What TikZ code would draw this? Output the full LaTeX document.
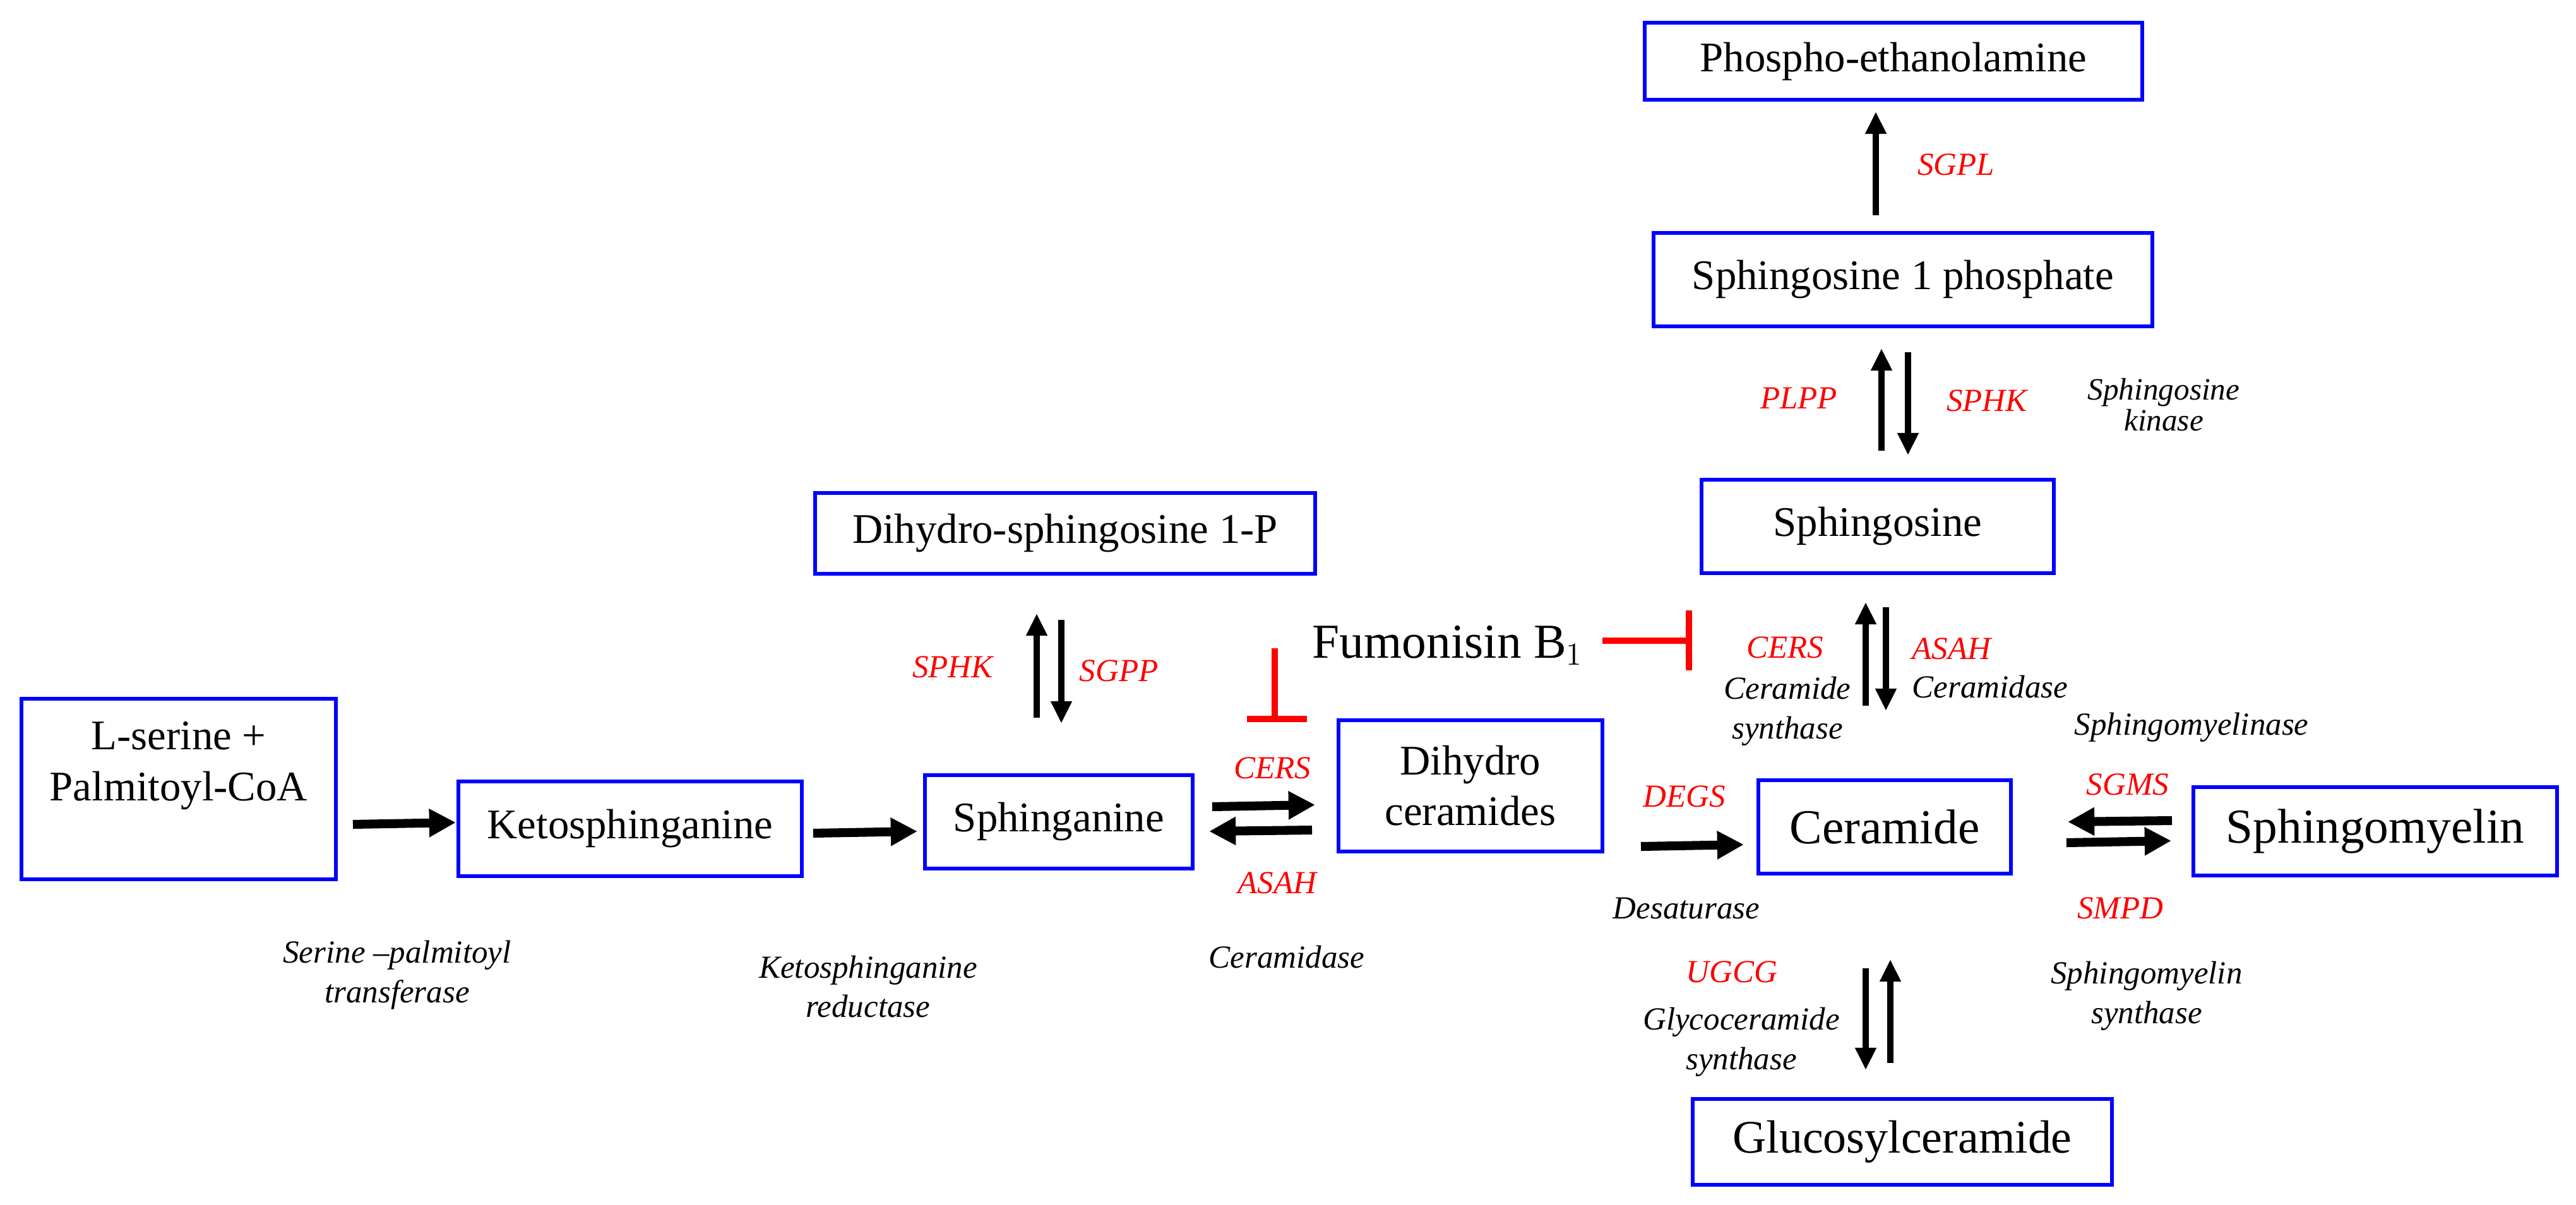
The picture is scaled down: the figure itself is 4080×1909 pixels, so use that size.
\documentclass[tikz,border=0pt]{standalone}
\usepackage{fontspec}
\setmainfont{Liberation Serif}
\usetikzlibrary{arrows.meta}
\begin{document}
\begin{tikzpicture}[x=0.01cm,y=-0.01cm,
  box/.style={draw=blue,line width=1.7pt,inner sep=0pt,align=center,font=\fontsize{19}{22.8}\selectfont},
  bigbox/.style={box,font=\fontsize{22}{26}\selectfont},
  harr/.style={line width=4pt,-{Triangle[length=12pt,width=12pt]}},
  varr/.style={line width=3pt,-{Triangle[length=10pt,width=9pt]}},
  inh/.style={red,line width=3pt},
  enz/.style={red,font=\fontsize{14.5}{17}\selectfont\itshape},
  lab/.style={align=center,font=\fontsize{14.5}{17.8}\selectfont\itshape}]
\useasboundingbox (0,0) rectangle (4080,1909);
% boxes
\node[box,minimum width=4.97cm,minimum height=2.86cm] (lser) at (283,1250) {};
\node[align=center,font=\fontsize{19}{22.8}\selectfont] (lsertxt) at (283,1213) {L-serine +\\Palmitoyl-CoA};
\node[box,minimum width=5.44cm,minimum height=1.49cm] (keto) at (998,1313) {Ketosphinganine};
\node[box,minimum width=4.24cm,minimum height=1.48cm] (spha) at (1677,1302) {Sphinganine};
\node[box,minimum width=4.17cm,minimum height=2.07cm] (dhc) at (2329,1245) {Dihydro\\ceramides};
\node[bigbox,minimum width=4.00cm,minimum height=1.48cm] (cer) at (2985,1310) {Ceramide};
\node[bigbox,minimum width=5.75cm,minimum height=1.39cm] (sm) at (3762,1317) {Sphingomyelin};
\node[bigbox,font=\fontsize{21}{25}\selectfont,minimum width=6.64cm,minimum height=1.36cm] (glc) at (3013,1809) {Glucosylceramide};
\node[box,minimum width=7.91cm,minimum height=1.27cm] (dhs) at (1687,845) {Dihydro-sphingosine 1-P};
\node[box,minimum width=5.58cm,minimum height=1.48cm] (sph) at (2974,834) {Sphingosine};
\node[box,minimum width=7.90cm,minimum height=1.48cm] (s1p) at (3014,443) {Sphingosine 1 phosphate};
\node[box,minimum width=7.88cm,minimum height=1.22cm] (pe) at (2999,97) {Phospho-ethanolamine};
% arrow end points
\coordinate (a1s) at (559,1306); \coordinate (a1e) at (722,1303);
\coordinate (a2s) at (1288,1320); \coordinate (a2e) at (1453,1317);
\coordinate (a3s) at (1920,1278); \coordinate (a3e) at (2083,1275);
\coordinate (a4s) at (2078,1315); \coordinate (a4e) at (1915,1317);
\coordinate (a5s) at (2599,1341); \coordinate (a5e) at (2762,1338);
\coordinate (a6s) at (3440,1300); \coordinate (a6e) at (3275,1302);
\coordinate (a7s) at (3273,1335); \coordinate (a7e) at (3439,1332);
\coordinate (a8s) at (2955,1534); \coordinate (a8e) at (2955,1695);
\coordinate (a9s) at (2994,1684); \coordinate (a9e) at (2994,1520);
\coordinate (b1s) at (2955,1118); \coordinate (b1e) at (2955,954);
\coordinate (b2s) at (2987,962); \coordinate (b2e) at (2987,1126);
\coordinate (b3s) at (2980,714); \coordinate (b3e) at (2980,552);
\coordinate (b4s) at (3022,558); \coordinate (b4e) at (3022,721);
\coordinate (b5s) at (2971,341); \coordinate (b5e) at (2971,177);
\coordinate (b6s) at (1642,1137); \coordinate (b6e) at (1642,972);
\coordinate (b7s) at (1681,982); \coordinate (b7e) at (1681,1146);
\draw[harr] (a1s) -- (a1e);
\draw[harr] (a2s) -- (a2e);
\draw[harr] (a3s) -- (a3e);
\draw[harr] (a4s) -- (a4e);
\draw[harr] (a5s) -- (a5e);
\draw[harr] (a6s) -- (a6e);
\draw[harr] (a7s) -- (a7e);
\draw[varr] (a8s) -- (a8e);
\draw[varr] (a9s) -- (a9e);
\draw[varr] (b1s) -- (b1e);
\draw[varr] (b2s) -- (b2e);
\draw[varr] (b3s) -- (b3e);
\draw[varr] (b4s) -- (b4e);
\draw[varr] (b5s) -- (b5e);
\draw[varr] (b6s) -- (b6e);
\draw[varr] (b7s) -- (b7e);
% Fumonisin
\node[font=\fontsize{22}{26}\selectfont] (fum) at (2293,1022) {Fumonisin B$_1$};
\coordinate (i1s) at (2538,1015); \coordinate (i1e) at (2675,1015);
\coordinate (i1a) at (2675,967); \coordinate (i1b) at (2675,1062);
\draw[inh] (i1s) -- (i1e); \draw[inh] (i1a) -- (i1b);
\coordinate (i2s) at (2019,1027); \coordinate (i2e) at (2019,1139);
\coordinate (i2a) at (1975,1139); \coordinate (i2b) at (2070,1139);
\draw[inh] (i2s) -- (i2e); \draw[inh] (i2a) -- (i2b);
% enzyme labels
\node[enz] (e1) at (1509,1057) {SPHK};
\node[enz] (e2) at (1772,1063) {SGPP};
\node[enz] (e3) at (2015,1217) {CERS};
\node[enz] (e4) at (2023,1399) {ASAH};
\node[enz] (e5) at (2668,1262) {DEGS};
\node[enz] (e6) at (3370,1243) {SGMS};
\node[enz] (e7) at (3358,1439) {SMPD};
\node[enz] (e8) at (2743,1540) {UGCG};
\node[enz] (e9) at (2827,1026) {CERS};
\node[enz] (e10) at (3091,1028) {ASAH};
\node[enz] (e11) at (2849,631) {PLPP};
\node[enz] (e12) at (3147,635) {SPHK};
\node[enz] (e13) at (3098,261) {SGPL};
% descriptive labels
\node[lab] (l1) at (629,1545) {Serine --palmitoyl\\transferase};
\node[lab] (l2) at (1375,1563) {Ketosphinganine\\reductase};
\node[lab] (l3) at (2038,1516) {Ceramidase};
\node[lab] (l4) at (2671,1439) {Desaturase};
\node[lab] (l5) at (3471,1152) {Sphingomyelinase};
\node[lab] (l6) at (3400,1578) {Sphingomyelin\\synthase};
\node[lab] (l7) at (2758,1651) {Glycoceramide\\synthase};
\node[lab] (l8) at (2831,1127) {Ceramide\\synthase};
\node[lab] (l9) at (3152,1088) {Ceramidase};
\node[lab,font=\fontsize{14}{14}\selectfont\itshape] (l10) at (3427,641) {Sphingosine\\kinase};
\end{tikzpicture}
\end{document}
